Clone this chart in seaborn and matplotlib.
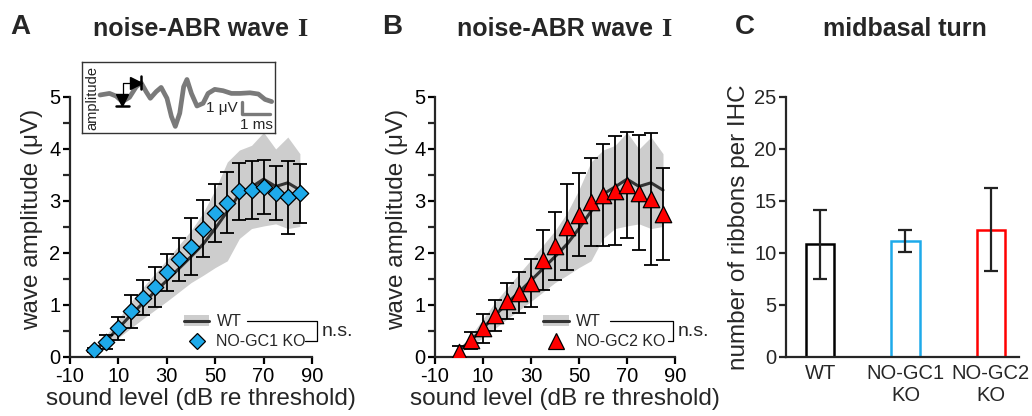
import matplotlib
matplotlib.use("Agg")
import matplotlib.pyplot as plt
from matplotlib.lines import Line2D
from matplotlib.patches import Patch
from matplotlib.ticker import MultipleLocator
import pandas as pd
import seaborn as sns

# ---- data ----
levels = [0, 5, 10, 15, 20, 25, 30, 35, 40, 45, 50, 55, 60, 65, 70, 75, 80, 85]

wt_mean = [0.12, 0.32, 0.55, 0.80, 1.03, 1.25, 1.47, 1.70, 1.93, 2.17, 2.47, 2.80,
           3.13, 3.27, 3.42, 3.28, 3.35, 3.21]
wt_sd = [0.05, 0.10, 0.18, 0.25, 0.30, 0.35, 0.40, 0.45, 0.50, 0.60, 0.75, 0.95,
         0.85, 0.80, 0.90, 0.72, 0.88, 0.70]

gc1_mean = [0.13, 0.29, 0.55, 0.88, 1.14, 1.35, 1.63, 1.88, 2.12, 2.47, 2.77, 2.97,
            3.19, 3.21, 3.27, 3.15, 3.07, 3.15]
gc1_sd = [0.04, 0.13, 0.22, 0.32, 0.34, 0.39, 0.36, 0.41, 0.55, 0.55, 0.56, 0.59,
          0.55, 0.55, 0.52, 0.52, 0.70, 0.57]

gc2_mean = [0.10, 0.32, 0.55, 0.80, 1.08, 1.24, 1.43, 1.86, 2.14, 2.50, 2.74, 2.98,
            3.11, 3.20, 3.30, 3.16, 3.03, 2.75]
gc2_sd = [0.12, 0.16, 0.28, 0.30, 0.34, 0.39, 0.46, 0.58, 0.65, 0.83, 0.80, 0.85,
          0.98, 1.05, 1.02, 1.10, 1.27, 0.88]

genotypes = ["WT", "NO-GC1\nKO", "NO-GC2\nKO"]
ribbons = [10.83, 11.15, 12.24]
ribbons_sd = [3.3, 1.07, 4.0]

# example ABR trace for the inset (time in ms, amplitude in uV)
trace_t = [0.0, 0.34, 0.58, 0.80, 1.06, 1.30, 1.48, 1.66, 1.81, 2.02, 2.20, 2.41,
           2.57, 2.71, 2.87, 3.01, 3.13, 3.29, 3.49, 3.71, 3.89, 4.13, 4.43, 4.73,
           5.04, 5.40, 5.70, 5.94, 6.18]
trace_v = [0.68, 0.81, 0.59, 0.14, 0.49, 1.35, 1.68, 0.95, 0.41, 0.95, 1.30, 0.41,
           -1.08, -1.89, -0.81, 1.35, 1.95, 0.81, -0.22, 0.0, 0.81, 1.14, 1.03, 0.81,
           0.81, 0.86, 0.76, 0.32, 0.14]

# ---- style ----
WT_LINE = "#333333"
WT_BAND = "#cdcdcd"
GC1_COLOR = "#1eaaea"
GC2_COLOR = "#ff0000"
LABEL_SIZE = 17.5
TICK_SIZE = 14.5

sns.set_style("ticks")
plt.rcParams["font.family"] = ["Liberation Sans", "DejaVu Sans"]
plt.rcParams["axes.unicode_minus"] = False
plt.rcParams["axes.linewidth"] = 1.6
plt.rcParams["xtick.major.width"] = 1.6
plt.rcParams["ytick.major.width"] = 1.6
plt.rcParams["ytick.minor.width"] = 1.6
plt.rcParams["xtick.major.size"] = 5
plt.rcParams["ytick.major.size"] = 5
plt.rcParams["ytick.minor.size"] = 5

fig = plt.figure(figsize=(10.32, 4.16), dpi=100)
W, H = 1032, 416


def px_axes(left, right, top, bottom):
    return fig.add_axes([left / W, 1 - bottom / H, (right - left) / W, (bottom - top) / H])


def style_abr_axes(ax):
    ax.set_xlim(-10, 90)
    ax.set_ylim(0, 5)
    ax.set_xticks([-10, 10, 30, 50, 70, 90])
    ax.set_yticks([0, 1, 2, 3, 4, 5])
    ax.yaxis.set_minor_locator(MultipleLocator(0.5))
    ax.tick_params(labelsize=TICK_SIZE, direction="out", colors="black", pad=2)
    ax.set_xlabel("sound level (dB re threshold)", fontsize=LABEL_SIZE)
    ax.set_ylabel("wave amplitude (μV)", fontsize=LABEL_SIZE)
    ax.xaxis.set_label_coords(0.54, -0.118)
    ax.yaxis.set_label_coords(-0.112, 0.53)
    sns.despine(ax=ax)


def abr_panel(ax, ko_mean, ko_sd, marker, msize, color, ko_label, leg_x, bracket_x):
    ax.fill_between(levels, [m - s for m, s in zip(wt_mean, wt_sd)],
                    [m + s for m, s in zip(wt_mean, wt_sd)],
                    color=WT_BAND, lw=0, zorder=1)
    sns.lineplot(x=levels, y=wt_mean, ax=ax, color=WT_LINE, lw=2.2, zorder=2)
    ax.errorbar(levels, ko_mean, yerr=ko_sd, fmt="none", ecolor="black",
                elinewidth=1.3, capsize=5, capthick=1.3, zorder=3)
    sns.scatterplot(x=levels, y=ko_mean, ax=ax, marker=marker, s=msize, color=color,
                    edgecolor="black", linewidth=0.9, zorder=4)
    style_abr_axes(ax)

    handles = [(Patch(facecolor=WT_BAND, edgecolor="none"),
                Line2D([], [], color=WT_LINE, lw=2.2)),
               Line2D([], [], ls="none", marker=marker, markersize=msize ** 0.5,
                      markerfacecolor=color, markeredgecolor="black", markeredgewidth=0.9)]
    ax.legend(handles, ["WT", ko_label], loc="lower left", bbox_to_anchor=(leg_x, 0.03),
              frameon=False, fontsize=11.5, handlelength=1.6, handletextpad=0.45,
              labelspacing=0.3, borderpad=0, borderaxespad=0)

    # significance bracket
    ax.plot([0.73, bracket_x, bracket_x, 0.97], [0.138, 0.138, 0.062, 0.062],
            transform=ax.transAxes, color="black", lw=0.9, clip_on=False)
    ax.text(bracket_x + 0.02, 0.10, "n.s.", transform=ax.transAxes, fontsize=14,
            va="center", ha="left")


# ---- panel A ----
axA = px_axes(70, 312, 97, 357)
abr_panel(axA, gc1_mean, gc1_sd, "D", 70, GC1_COLOR, "NO-GC1 KO", 0.47, 1.02)

# inset with the example trace
axI = px_axes(82, 275, 62, 133)
sns.lineplot(x=trace_t, y=trace_v, ax=axI, color="#7a7a7a", lw=3.4)
axI.set_xlim(-0.65, 6.30)
axI.set_ylim(-2.43, 3.38)
axI.set_xticks([])
axI.set_yticks([])
axI.set_xlabel("")
axI.set_ylabel("")
for sp in axI.spines.values():
    sp.set_visible(True)
    sp.set_linewidth(1.0)
    sp.set_color("#333333")
axI.text(-0.52, 0.45, "amplitude", rotation=90, fontsize=10.5, ha="left", va="center",
         color="#222222")
# amplitude measurement markers
axI.plot([0.84, 0.84, 1.25], [0.27, 1.68, 1.68], color="black", lw=0.9)
axI.plot([0.80], [0.30], marker="v", color="black", markersize=8)
axI.plot([0.58, 1.06], [-0.22, -0.22], color="black", lw=1.8)
axI.plot([1.30], [1.68], marker=">", color="black", markersize=8)
axI.plot([1.48, 1.48], [1.15, 2.25], color="black", lw=1.8)
# scale bar
axI.plot([5.12, 5.12, 6.12], [0.135, -0.86, -0.86], color="#7a7a7a", lw=2.4)
axI.text(4.95, -0.4, "1 μV", fontsize=11, ha="right", va="center")
axI.text(5.62, -1.75, "1 ms", fontsize=11, ha="center", va="center")

# ---- panel B ----
axB = px_axes(435, 675, 97, 357)
abr_panel(axB, gc2_mean, gc2_sd, "^", 140, GC2_COLOR, "NO-GC2 KO", 0.45, 0.99)

# ---- panel C ----
axC = px_axes(786, 1019, 97, 357)
df = pd.DataFrame({"genotype": genotypes, "ribbons": ribbons})
sns.barplot(data=df, x="genotype", y="ribbons", hue="genotype",
            palette=["black", GC1_COLOR, GC2_COLOR], fill=False, width=0.33,
            linewidth=1.8, errorbar=None, legend=False, ax=axC)
axC.errorbar(range(len(genotypes)), ribbons, yerr=ribbons_sd, fmt="none",
             ecolor="#222222", elinewidth=1.6, capsize=5, capthick=1.6)
axC.set_xlim(-0.4, 2.33)
axC.set_ylim(0, 25)
axC.set_yticks([0, 5, 10, 15, 20, 25])
axC.tick_params(axis="x", length=0, labelsize=TICK_SIZE, pad=5)
axC.tick_params(axis="y", labelsize=TICK_SIZE, direction="out", pad=2)
axC.set_xlabel("")
axC.set_ylabel("number of ribbons per IHC", fontsize=LABEL_SIZE, labelpad=3)
sns.despine(ax=axC)

# ---- titles and panel letters ----
for x, letter in [(10, "A"), (382, "B"), (735, "C")]:
    fig.text(x / W, 1 - 27 / H, letter, fontsize=20, fontweight="bold", va="center")
for xr in (296, 660):
    fig.text(xr / W, 1 - 29 / H, "noise-ABR wave ", fontsize=18, fontweight="bold",
             ha="right", va="center")
    fig.text((xr + 1) / W, 1 - 29 / H, "I", fontsize=19, fontweight="bold",
             family="Liberation Serif", ha="left", va="center")
fig.text(905 / W, 1 - 29 / H, "midbasal turn", fontsize=18, fontweight="bold",
         ha="center", va="center")

fig.savefig("out.png", dpi=100)
